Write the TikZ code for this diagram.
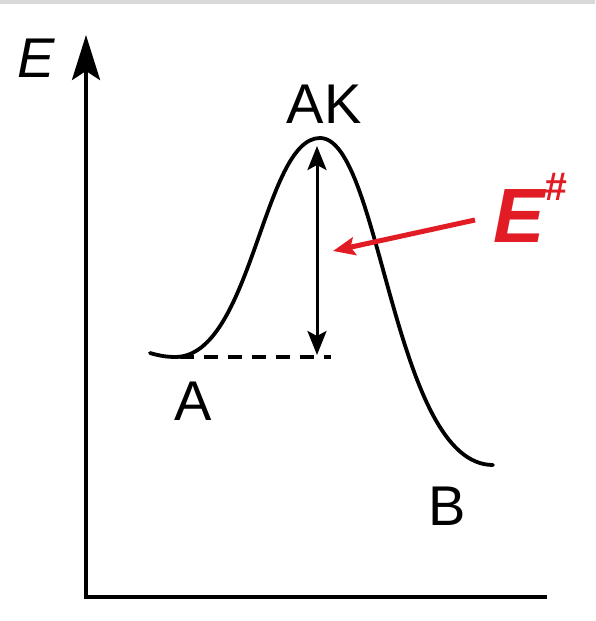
\documentclass[tikz,border=0pt]{standalone}
\usepackage{fontspec}
\setmainfont{Liberation Sans}
\usetikzlibrary{arrows.meta}
\definecolor{redE}{RGB}{226,28,36}
\definecolor{band}{RGB}{217,217,217}
\tikzset{
  lbl/.style={inner sep=0pt, anchor=base, font=\fontsize{56}{60}\selectfont},
  axisline/.style={line width=4pt, line cap=butt},
  curve/.style={line width=3.8pt, line join=round, line cap=round},
  myhead/.tip={Stealth[length=24pt,width=19pt,inset=5pt]},
}
\begin{document}
\begin{tikzpicture}[x=1pt,y=-1pt]
\useasboundingbox (0,0) rectangle (595,621);
\fill[white] (0,0) rectangle (595,621);
\fill[band] (0,0) rectangle (595,4);

% axes
\coordinate (origin) at (86,597);
\coordinate (ytip) at (86,35);
\coordinate (xend) at (547,597);
\draw[axisline, line join=miter, -{Stealth[length=45pt,width=28pt,inset=9pt]}] (xend) -- (origin) -- (ytip);
\node[lbl, font=\fontsize{56}{60}\selectfont\itshape] (Elabel) at (36,77) {E};

% energy curve
\coordinate (cstart) at (150,353);
\coordinate (cmin) at (175,357);
\coordinate (cpeak) at (320,138);
\coordinate (cend) at (493,465);
\draw[curve] (cstart) .. controls (160,356) and (168,357) .. (cmin)
  .. controls (252,357) and (263,138) .. (cpeak)
  .. controls (381,138) and (393,465) .. (cend);

% dashed baseline
\coordinate (dashL) at (180,357);
\coordinate (dashR) at (331,357);
\draw[line width=3.5pt, dash pattern=on 14pt off 10pt] (dashL) -- (dashR);

% activation energy arrow
\coordinate (top) at (317,146);
\coordinate (bot) at (317,355);
\draw[line width=3pt, myhead-myhead] (bot) -- (top);

% labels
\node[lbl] (AK) at (324,123) {AK};
\node[lbl] (A) at (193,420) {A};
\node[lbl] (B) at (447,525) {B};

% red label and arrow
\node[inner sep=0pt, anchor=base west, text=redE, font=\fontsize{77}{80}\selectfont\bfseries\itshape] (Eh) at (493,242) {E\raisebox{42pt}{\fontsize{40}{42}\selectfont\#}};
\coordinate (rstart) at (475,220);
\coordinate (rend) at (333,251);
\draw[redE, line width=5pt, -{Stealth[length=22pt,width=18pt,inset=4pt]}] (rstart) -- (rend);
\end{tikzpicture}
\end{document}
